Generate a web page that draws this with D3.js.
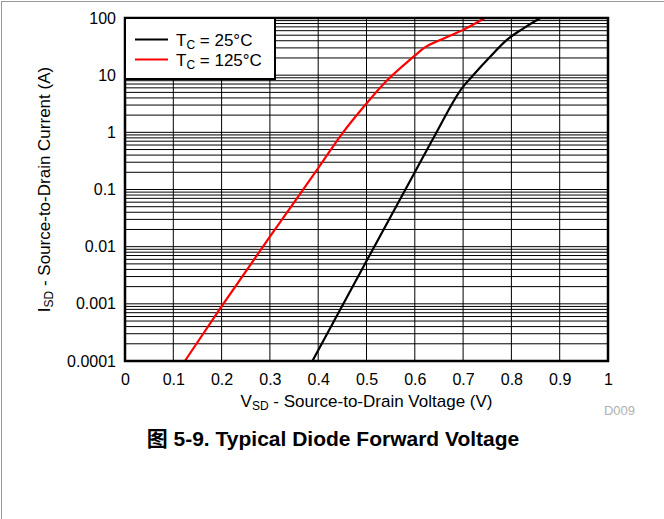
<!DOCTYPE html>
<html>
<head>
<meta charset="utf-8">
<script src="https://cdn.jsdelivr.net/npm/d3@7"></script>
<style>
  html, body { margin: 0; padding: 0; background: #fff; }
  svg { display: block; font-family: "Liberation Sans", Arial, sans-serif; }
</style>
</head>
<body>
<svg id="chart" width="664" height="519"></svg>
<script>
// ---- Data ----
const v25  = [0.388, 0.50, 0.60, 0.642, 0.70, 0.718, 0.756, 0.79, 0.825, 0.86];
const i25  = [0.0001, 0.0056, 0.2, 0.9, 6.3, 9.4, 21, 41, 66, 100];
const v125 = [0.124, 0.20, 0.30, 0.40, 0.45, 0.50, 0.53, 0.60, 0.618, 0.66, 0.70, 0.745];
const i125 = [0.0001, 0.0009, 0.015, 0.236, 0.96, 3.2, 6.3, 22, 29.5, 44, 62, 100];
const xTicks = [0, 0.1, 0.2, 0.3, 0.4, 0.5, 0.6, 0.7, 0.8, 0.9, 1];
const xTickLabels = ["0", "0.1", "0.2", "0.3", "0.4", "0.5", "0.6", "0.7", "0.8", "0.9", "1"];
const yTicks = [0.0001, 0.001, 0.01, 0.1, 1, 10, 100];
const yTickLabels = ["0.0001", "0.001", "0.01", "0.1", "1", "10", "100"];
const seriesNames = ["25°C", "125°C"];
const seriesColors = ["#000000", "#ff0000"];

const svg = d3.select("#chart");
const L = 125, R = 608, T = 18, B = 361;

const x = d3.scaleLinear().domain([0, 1]).range([L, R]);
const y = d3.scaleLog().domain([0.0001, 100]).range([B, T]);

// outer frame (top & left)
svg.append("line").attr("x1", 1).attr("x2", 664).attr("y1", 1.5).attr("y2", 1.5)
  .attr("stroke", "#999").attr("stroke-width", 1);
svg.append("line").attr("x1", 1.5).attr("x2", 1.5).attr("y1", 1).attr("y2", 519)
  .attr("stroke", "#999").attr("stroke-width", 1);

// grid
const g = svg.append("g");
const minor = [];
for (let e = -4; e < 2; e++) for (let m = 1; m <= 9; m++) minor.push(m * Math.pow(10, e));
minor.push(100);
g.selectAll("line.h").data(minor).enter().append("line")
  .attr("x1", L).attr("x2", R).attr("y1", d => y(d)).attr("y2", d => y(d))
  .attr("stroke", "#000").attr("stroke-width", 1);
g.selectAll("line.v").data(xTicks).enter().append("line")
  .attr("y1", T).attr("y2", B).attr("x1", d => x(d)).attr("x2", d => x(d))
  .attr("stroke", "#000").attr("stroke-width", 1);

// curves
const line = d3.line().x(d => x(d[0])).y(d => y(d[1])).curve(d3.curveMonotoneX);
const series = [d3.zip(v25, i25), d3.zip(v125, i125)];
series.forEach((s, k) => {
  svg.append("path").datum(s).attr("d", line)
    .attr("fill", "none").attr("stroke", seriesColors[k]).attr("stroke-width", 2.2);
});

// plot frame
svg.append("rect").attr("x", L).attr("y", T).attr("width", R - L).attr("height", B - T)
  .attr("fill", "none").attr("stroke", "#000").attr("stroke-width", 2.5);

// axes (labels only)
const xAxis = d3.axisBottom(x).tickValues(xTicks).tickSize(0).tickPadding(13)
  .tickFormat((d, i) => xTickLabels[i]);
const xa = svg.append("g").attr("transform", `translate(0,${B})`).call(xAxis);
xa.select(".domain").remove();
xa.selectAll("text").attr("font-size", 16).attr("fill", "#000")
  .attr("font-family", "Liberation Sans, Arial, sans-serif");

const yAxis = d3.axisLeft(y).tickValues(yTicks).tickSize(0).tickPadding(9)
  .tickFormat((d, i) => yTickLabels[i]);
const ya = svg.append("g").attr("transform", `translate(${L},0)`).call(yAxis);
ya.select(".domain").remove();
ya.selectAll("text").attr("font-size", 16).attr("fill", "#000")
  .attr("font-family", "Liberation Sans, Arial, sans-serif");

// axis titles
const xt = svg.append("text").attr("x", (L + R) / 2).attr("y", 407)
  .attr("text-anchor", "middle").attr("font-size", 17);
xt.append("tspan").text("V");
xt.append("tspan").attr("font-size", 12).attr("dy", 3).text("SD");
xt.append("tspan").attr("dy", -3).text(" - Source-to-Drain Voltage (V)");

const yt = svg.append("text").attr("transform", `translate(50,${(T + B) / 2}) rotate(-90)`)
  .attr("text-anchor", "middle").attr("font-size", 17);
yt.append("tspan").text("I");
yt.append("tspan").attr("font-size", 12).attr("dy", 3).text("SD");
yt.append("tspan").attr("dy", -3).text(" - Source-to-Drain Current (A)");

// legend
svg.append("rect").attr("x", L).attr("y", T).attr("width", 150).attr("height", 61)
  .attr("fill", "#fff").attr("stroke", "#000").attr("stroke-width", 2);
seriesNames.forEach((n, k) => {
  const ly = 39.5 + k * 20;
  svg.append("line").attr("x1", 135).attr("x2", 168).attr("y1", ly).attr("y2", ly)
    .attr("stroke", seriesColors[k]).attr("stroke-width", 2.2);
  const t = svg.append("text").attr("x", 176).attr("y", ly + 6).attr("font-size", 17);
  t.append("tspan").text("T");
  t.append("tspan").attr("font-size", 12).attr("dy", 3).text("C");
  t.append("tspan").attr("dy", -3).text(" = " + n);
});

// figure id
svg.append("text").attr("x", 619.5).attr("y", 415).attr("text-anchor", "middle")
  .attr("font-size", 13).attr("fill", "#b0b0b0").text("D009");

// caption
svg.append("text").attr("x", 333).attr("y", 446).attr("text-anchor", "middle")
  .attr("font-size", 21).attr("font-weight", "bold")
  .attr("font-family", "Liberation Sans, 'Noto Sans CJK SC', Arial, sans-serif")
  .text("图 5-9. Typical Diode Forward Voltage");
</script>
</body>
</html>
